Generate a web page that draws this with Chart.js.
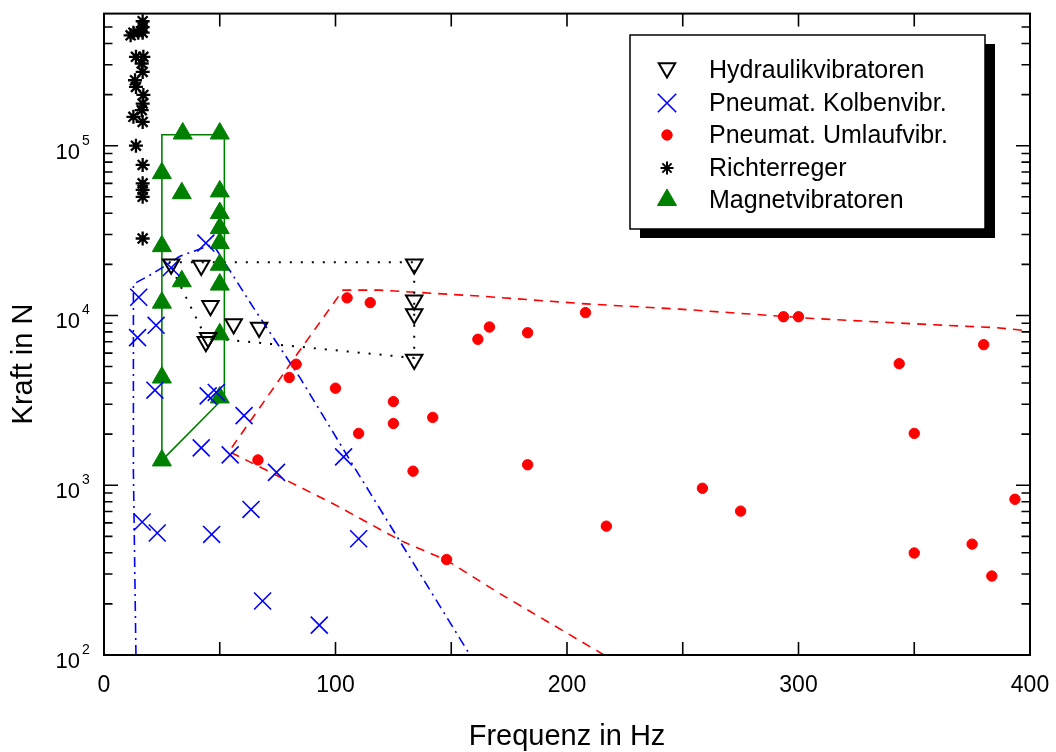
<!DOCTYPE html>
<html>
<head>
<meta charset="utf-8">
<script src="https://cdn.jsdelivr.net/npm/chart.js@4/dist/chart.umd.min.js"></script>
<style>
  html, body { margin: 0; padding: 0; background: #fff; }
  #wrap { width: 1056px; height: 752px; }
</style>
</head>
<body>
<div id="wrap"><canvas id="c" width="1056" height="752"></canvas></div>
<script>
// ---------------- data ----------------
const hydFreq  = [29, 42, 46, 56, 67, 45, 44, 134, 134, 134, 134];
const hydForce = [20000, 19700, 11400, 8900, 8500, 7400, 7000, 20000, 12300, 10200, 5500];

const kolFreq  = [44, 29, 15, 22.5, 14.5, 22, 45, 48.5, 60.5, 42, 54.5, 74.5, 103.5, 16.5, 23, 46.5, 63.5, 110, 68.5, 93];
const kolForce = [26700, 19100, 12800, 8750, 7400, 3630, 3360, 3520, 2570, 1660, 1510, 1190, 1470, 607, 523, 513, 720, 484, 208, 150];

const umlFreq  = [66.5, 80, 83, 100, 105, 115, 110, 125, 125, 142, 133.5, 148, 161.5, 166.5, 183, 183, 208, 217, 258.5, 275, 293.5, 300, 343.5, 350, 350, 375, 380, 383.5, 393.5];
const umlForce = [1410, 4310, 5160, 3730, 12700, 11900, 2020, 3110, 2310, 2510, 1210, 365, 7240, 8550, 7910, 1320, 10400, 574, 960, 704, 9830, 9830, 5200, 2020, 399, 450, 6730, 292, 827];

const ricFreq  = [16.7, 16.7, 12.7, 14.8, 16.7, 11.5, 13.8, 17.0, 16.3, 16.7, 13.4, 13.8, 17.0, 16.7, 16.3, 12.7, 16.7, 13.8, 16.7, 16.7, 16.7, 16.7, 16.7];
const ricForce = [541000, 500000, 463000, 463000, 463000, 447000, 334000, 334000, 305000, 272000, 243000, 222000, 199000, 177000, 162000, 148000, 138000, 100000, 77000, 60000, 55000, 50000, 28400];

const magFreq  = [34, 50, 25, 33.6, 50, 50, 50, 25, 50, 50, 33.6, 50, 25, 50, 25, 50, 25];
const magForce = [118000, 118000, 68900, 52500, 53800, 40100, 32700, 25600, 26700, 19900, 15900, 15200, 11900, 7740, 4310, 3290, 1400];

// envelope lines
const hydEnvFreq  = [28, 134, 134, 44, 28];
const hydEnvForce = [20600, 20600, 5620, 7400, 20600];

const kolEnvFreq  = [13.8, 12.7, 12.7, 21.2, 32.8, 47.1, 64.4, 84.7, 107.6, 158.1];
const kolEnvForce = [100, 1220, 15300, 17700, 22300, 26300, 11200, 4290, 1310, 100];

const umlEnvFreq  = [216, 171, 148, 128, 99, 67.4, 54, 84.7, 103.2, 119.2, 162.4, 208.2, 248.8, 306.3, 349.5, 385.7, 400];
const umlEnvForce = [100, 230, 361, 473, 778, 1280, 1580, 6260, 14100, 14100, 13000, 11700, 10900, 9600, 8940, 8470, 8100];

const magEnvFreq  = [25, 25, 52, 52, 25];
const magEnvForce = [1400, 116000, 116000, 3300, 1400];

// axes
const xTickValues = [0, 100, 200, 300, 400];
const xMinorValues = [50, 150, 250, 350];
const yTickValues = [100, 1000, 10000, 100000];
const yTickBase = '10';
const yTickExponents = ['2', '3', '4', '5'];
const seriesLabels = ['Hydraulikvibratoren', 'Pneumat. Kolbenvibr.', 'Pneumat. Umlaufvibr.', 'Richterreger', 'Magnetvibratoren'];
const xTitle = 'Frequenz in Hz';
const yTitle = 'Kraft in N';

// ---------------- helpers ----------------
const pts = (xs, ys) => xs.map((v, i) => ({x: v, y: ys[i]}));
const FONT = "'Liberation Sans', Arial, Helvetica, sans-serif";
Chart.defaults.font.family = FONT;
Chart.defaults.color = '#000';

const BLUE = '#0000ff', RED = '#ff0000', GREEN = '#008000', BLACK = '#000000';

const markerStyles = [
  {pointStyle: 'triangle', rotation: 180, radius: 9.5, borderWidth: 2, borderColor: BLACK, backgroundColor: 'rgba(0,0,0,0)'},
  {pointStyle: 'crossRot', rotation: 0, radius: 12, borderWidth: 1.6, borderColor: BLUE, backgroundColor: BLUE},
  {pointStyle: 'circle', rotation: 0, radius: 5.2, borderWidth: 1, borderColor: RED, backgroundColor: RED},
  {pointStyle: 'star', rotation: 0, radius: 7, borderWidth: 2.3, borderColor: BLACK, backgroundColor: BLACK},
  {pointStyle: 'triangle', rotation: 0, radius: 11, borderWidth: 1, borderColor: GREEN, backgroundColor: GREEN}
];
const markerData = [pts(hydFreq, hydForce), pts(kolFreq, kolForce), pts(umlFreq, umlForce), pts(ricFreq, ricForce), pts(magFreq, magForce)];

const scatterSets = markerData.map((d, i) => ({
  label: seriesLabels[i],
  data: d,
  showLine: false,
  pointStyle: markerStyles[i].pointStyle,
  rotation: markerStyles[i].rotation,
  pointRadius: markerStyles[i].radius,
  pointBorderWidth: markerStyles[i].borderWidth,
  pointBorderColor: markerStyles[i].borderColor,
  pointBackgroundColor: markerStyles[i].backgroundColor,
  clip: false,
  order: 1
}));

const lineSet = (xs, ys, color, dash, width) => ({
  label: '',
  data: pts(xs, ys),
  showLine: true,
  borderColor: color,
  borderWidth: width,
  borderDash: dash,
  pointRadius: 0,
  fill: false,
  tension: 0,
  order: 2
});

const envelopeSets = [
  lineSet(hydEnvFreq, hydEnvForce, BLACK, [2, 9], 2),
  lineSet(kolEnvFreq, kolEnvForce, BLUE, [10, 5, 2, 5], 1.6),
  lineSet(umlEnvFreq, umlEnvForce, RED, [9, 7], 1.6),
  lineSet(magEnvFreq, magEnvForce, GREEN, [], 1.6)
];

// ---------------- plugins ----------------
const framePlugin = {
  id: 'frameTicks',
  afterDatasetsDraw(chart) {
    const {ctx, chartArea: a, scales: {x, y}} = chart;
    ctx.save();
    ctx.strokeStyle = '#000';
    ctx.lineWidth = 1.6;
    ctx.beginPath();
    const vt = (px, len) => { ctx.moveTo(px, a.bottom); ctx.lineTo(px, a.bottom - len); ctx.moveTo(px, a.top); ctx.lineTo(px, a.top + len); };
    const ht = (py, len) => { ctx.moveTo(a.left, py); ctx.lineTo(a.left + len, py); ctx.moveTo(a.right, py); ctx.lineTo(a.right - len, py); };
    xTickValues.forEach(v => vt(x.getPixelForValue(v), 13));
    xMinorValues.forEach(v => vt(x.getPixelForValue(v), 13));
    yTickValues.forEach(v => ht(y.getPixelForValue(v), 14));
    for (let d = 2; d <= 5; d++) {
      for (let m = 2; m <= 9; m++) {
        const v = m * Math.pow(10, d);
        if (v >= y.max) continue;
        ht(y.getPixelForValue(v), 8.5);
      }
    }
    ctx.stroke();
    ctx.lineWidth = 2;
    ctx.strokeRect(a.left, a.top, a.right - a.left, a.bottom - a.top);

    // y tick labels 10^n
    ctx.fillStyle = '#000';
    ctx.textBaseline = 'alphabetic';
    yTickValues.forEach((v, i) => {
      const py = y.getPixelForValue(v);
      ctx.font = '22px ' + FONT;
      ctx.textAlign = 'right';
      ctx.fillText(yTickBase, 80, py + 13);
      ctx.font = '14px ' + FONT;
      ctx.textAlign = 'left';
      ctx.fillText(yTickExponents[i], 82, py - 1);
    });
    ctx.restore();
  },
  afterDraw(chart) {
    const ctx = chart.ctx;
    ctx.save();
    // y-axis title
    ctx.font = '29px ' + FONT;
    ctx.fillStyle = '#000';
    ctx.textAlign = 'center';
    ctx.textBaseline = 'middle';
    ctx.translate(24, 364);
    ctx.rotate(-Math.PI / 2);
    ctx.fillText(yTitle, 0, 0);
    ctx.restore();

    // legend box with shadow
    const bx = 630, by = 35, bw = 355, bh = 194;
    ctx.save();
    ctx.fillStyle = '#000';
    ctx.fillRect(bx + 10, by + 9, bw, bh);
    ctx.fillStyle = '#fff';
    ctx.fillRect(bx, by, bw, bh);
    ctx.strokeStyle = '#000';
    ctx.lineWidth = 1.5;
    ctx.strokeRect(bx, by, bw, bh);
    const rowY = [70, 103, 135, 168, 200];
    const legendRadius = [9.5, 13, 5.2, 6.5, 11];
    ctx.font = '25px ' + FONT;
    ctx.textAlign = 'left';
    ctx.textBaseline = 'middle';
    seriesLabels.forEach((lab, i) => {
      const st = markerStyles[i];
      ctx.save();
      ctx.strokeStyle = st.borderColor;
      ctx.fillStyle = st.backgroundColor;
      ctx.lineWidth = i === 3 ? 2 : st.borderWidth;
      Chart.helpers.drawPoint(ctx, {pointStyle: st.pointStyle, rotation: st.rotation, radius: legendRadius[i], borderWidth: st.borderWidth}, 667, rowY[i] + (i === 0 ? -2 : 0));
      ctx.restore();
      ctx.fillStyle = '#000';
      ctx.fillText(lab, 709, rowY[i] + 1);
    });
    ctx.restore();
  }
};

// ---------------- chart ----------------
new Chart(document.getElementById('c'), {
  type: 'scatter',
  data: { datasets: [...scatterSets, ...envelopeSets] },
  options: {
    responsive: false,
    animation: false,
    events: [],
    layout: { padding: { top: 11, right: 26, left: 0, bottom: 0 } },
    plugins: { legend: { display: false }, tooltip: { enabled: false } },
    scales: {
      x: {
        type: 'linear',
        min: 0, max: 400,
        grid: { display: false, drawTicks: false },
        border: { display: false },
        afterBuildTicks: s => { s.ticks = xTickValues.map(v => ({value: v})); },
        afterFit: s => { s.height = 97; s.paddingLeft = 0; s.paddingRight = 0; },
        ticks: { font: { size: 23 }, padding: 17, maxRotation: 0, color: '#000', callback: v => String(v) },
        title: { display: true, text: xTitle, font: { size: 29, lineHeight: 1 }, padding: { top: 0, bottom: 1 }, color: '#000' }
      },
      y: {
        type: 'logarithmic',
        min: 100, max: 600000,
        grid: { display: false, drawTicks: false },
        border: { display: false },
        afterBuildTicks: s => { s.ticks = yTickValues.map(v => ({value: v})); },
        afterFit: s => { s.width = 104; s.paddingTop = 0; s.paddingBottom = 0; },
        ticks: { display: false }
      }
    }
  },
  plugins: [framePlugin]
});
</script>
</body>
</html>
